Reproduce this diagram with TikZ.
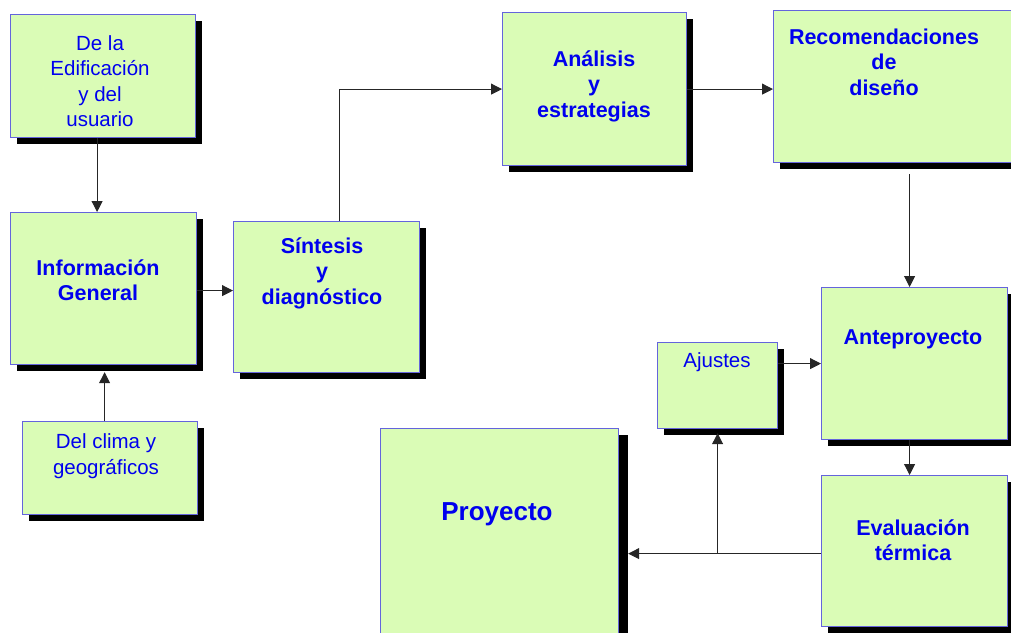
\documentclass[tikz,border=0pt]{standalone}
\usepackage{fontspec}
\setmainfont{Liberation Sans}
\usepackage{xcolor}
\definecolor{boxfill}{HTML}{DAFCB6}
\definecolor{boxline}{HTML}{6464DC}
\definecolor{textblue}{HTML}{0000EE}
\usepackage{tikz}
\usetikzlibrary{arrows.meta, shadows}

\begin{document}
\begin{tikzpicture}[
        x=1pt, y=-1pt,
        box/.style={rectangle, draw=boxline, line width=1.2pt, fill=boxfill, inner sep=0pt, anchor=north west,
            drop shadow={shadow xshift=6pt, shadow yshift=-6pt, fill=black, opacity=1}},
        plain/.style={text=textblue, align=center, inner sep=0pt, font=\fontsize{20.5}{25.5}\selectfont},
        heavy/.style={text=textblue, align=center, inner sep=0pt, font=\fontsize{21.5}{25.5}\selectfont\bfseries},
        arrow/.style={-{Triangle[length=11pt, width=11pt]}, line width=1pt, color=black!85}
    ]
    \useasboundingbox (0,0) rectangle (1011,632);

    % boxes
    \node [box, minimum width=185pt, minimum height=123pt] (edif) at (10,14) {};
    \node [box, minimum width=186pt, minimum height=152pt] (info) at (10,212) {};
    \node [box, minimum width=175pt, minimum height=93pt] (clima) at (22,421) {};
    \node [box, minimum width=186pt, minimum height=151pt] (sint) at (233,221) {};
    \node [box, minimum width=184pt, minimum height=153pt] (anal) at (502,12) {};
    \node [box, minimum width=245pt, minimum height=152pt] (recom) at (773,10) {};
    \node [box, minimum width=186pt, minimum height=152pt] (ante) at (821,287) {};
    \node [box, minimum width=120pt, minimum height=86pt] (ajus) at (657,342) {};
    \node [box, minimum width=238pt, minimum height=205pt,
        drop shadow={shadow xshift=9pt, shadow yshift=-6pt, fill=black, opacity=1}] (proy) at (380,428) {};
    \node [box, minimum width=186pt, minimum height=151pt] (eval) at (821,475) {};

    % texts
    \node [plain] (edifT) at (100,81) {De la\\Edificación\\y del\\usuario};
    \node [heavy] (infoT) at (98,280) {Información\\General};
    \node [plain] (climaT) at (106,456) {Del clima y\\geográficos};
    \node [heavy] (sintT) at (322,273) {Síntesis\\y\\diagnóstico};
    \node [heavy] (analT) at (594,86) {Análisis\\y\\estrategias};
    \node [heavy] (recomT) at (884,62) {Recomendaciones\\de\\diseño};
    \node [heavy] (anteT) at (913,339) {Anteproyecto};
    \node [plain] (ajusT) at (717,362) {Ajustes};
    \node [heavy] (evalT) at (913,540) {Evaluación\\térmica};
    \node [heavy, font=\fontsize{26}{30}\selectfont\bfseries] (proyT) at (497,514) {Proyecto};

    % connectors (tips stop on the shadow edges)
    \coordinate (infoShadow) at ([yshift=-7pt]info.south);
    \coordinate (proyShadow) at ([xshift=9pt]proy.east);
    \coordinate (ajusShadow) at ([yshift=-4pt]ajus.south);
    \coordinate (back) at ([yshift=-2.5pt]eval.west);
    \coordinate (split) at (ajus.south |- back);
    \draw [arrow] ([xshift=-6pt]edif.south) -- ([xshift=-6pt]edif.south |- info.north);
    \draw [arrow] ([xshift=-5.5pt]clima.north) -- ([xshift=-5.5pt]clima.north |- infoShadow);
    \draw [arrow] ([yshift=-2pt]info.east) -- ([yshift=-2pt]info.east -| sint.west);
    \draw [arrow] ([xshift=13pt]sint.north) |- (anal.west);
    \draw [arrow] (anal.east) -- (anal.east -| recom.west);
    \draw [arrow, shorten <=11pt] ([xshift=-5pt]ante.north |- recom.south) -- ([xshift=-5pt]ante.north);
    \draw [arrow] ([xshift=-5pt]ante.south) -- ([xshift=-5pt]eval.north);
    \draw [arrow] ([yshift=22pt]ajus.east) -- ([yshift=22pt]ajus.east -| ante.west);
    \draw [arrow] (back) -- (back -| proyShadow);
    \draw [arrow] (split) -- (ajusShadow);
\end{tikzpicture}
\end{document}
